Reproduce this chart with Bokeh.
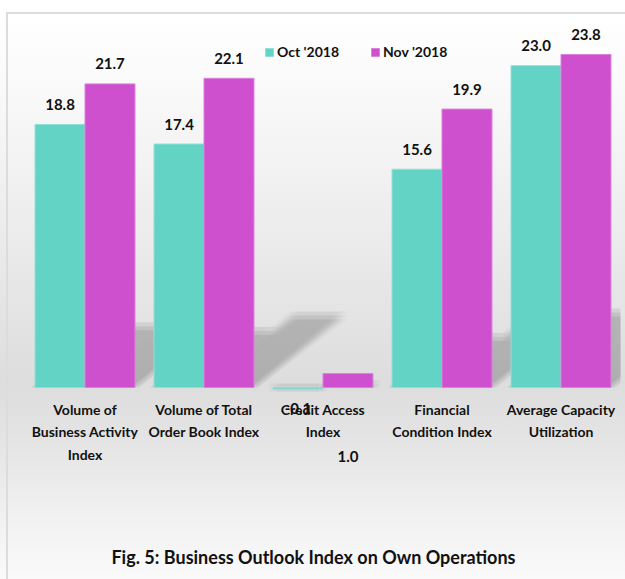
from bokeh.plotting import figure
from bokeh.models import ColumnDataSource, FactorRange, Range1d, Legend, LegendItem, Label
from bokeh.transform import dodge
from bokeh.core.properties import value
from bokeh.embed import file_html
from bokeh.resources import INLINE

categories = ["Volume of\nBusiness Activity\nIndex", "Volume of Total\nOrder Book Index",
              "Credit Access\nIndex", "Financial\nCondition Index", "Average Capacity\nUtilization"]
series_names = ["Oct '2018", "Nov '2018"]
oct_values = [18.8, 17.4, -0.1, 15.6, 23.0]
nov_values = [21.7, 22.1, 1.0, 19.9, 23.8]
title_text = "Fig. 5: Business Outlook Index on Own Operations"

# label placement (style): pixel offsets of value labels (negative = up)
oct_label_offsets = [-20, -20, 20, -20, -20]
nov_label_offsets = [-20, -20, 83, -20, -20]

TEAL = "#62d3c5"
MAGENTA = "#ce50ce"
FONT = "Lato"
INK = "#111111"
BAR_W = 0.42

src = ColumnDataSource(dict(
    cat=categories,
    zero=[0] * len(categories),
    oct=oct_values,
    nov=nov_values,
    oct_lbl=[f"{v:.1f}" for v in oct_values],
    nov_lbl=[f"{v:.1f}" for v in nov_values],
    oct_off=oct_label_offsets,
    nov_off=nov_label_offsets,
))

W, H = 625, 579
p = figure(width=W, height=H, output_backend="svg", toolbar_location=None,
           x_range=FactorRange(factors=categories), y_range=Range1d(-13.72, 27.66),
           min_border_left=25, min_border_right=5, min_border_top=0, min_border_bottom=0)

p.background_fill_alpha = 0
p.border_fill_alpha = 0
p.outline_line_color = None
p.styles = {
    "background": ("linear-gradient(#dcdcdc,#dcdcdc) 6px 12px / 100% 2px no-repeat, "
                   "linear-gradient(#dcdcdc,#dcdcdc) 6px 12px / 2px 100% no-repeat, "
                   "linear-gradient(to bottom, #ffffff 0%, #ffffff 3%, #fbfbfb 12%, #ececec 40%, "
                   "#dddddd 66%, #e4e4e4 76%, #f0f0f0 88%, #fafafa 100%)"),
}
p.xaxis.visible = False
p.yaxis.visible = False
p.grid.visible = False

# soft perspective shadow cast by each bar (derived from the bar values)
PX_PER_CAT, PX_PER_UNIT = 119.0, 13.99
SKEW, LIFT = 0.29, 0.233
shadow_xs, shadow_ys = [], []
for i in range(len(categories)):
    for off, v in ((-BAR_W / 2, oct_values[i]), (BAR_W / 2, nov_values[i])):
        h = max(v, 0)
        xl = i + 0.5 + off - BAR_W / 2
        xr = xl + BAR_W
        shift = SKEW * h * PX_PER_UNIT / PX_PER_CAT
        top = LIFT * h
        for dx in (-4, 0, 4):
            for dy in (-4, 0, 4):
                ox, oy = dx / PX_PER_CAT, dy / PX_PER_UNIT
                shadow_xs.append([xl + ox, xr + ox, xr + shift + ox, xl + shift + ox])
                shadow_ys.append([0, 0, top + oy, top + oy])
p.patches(xs=shadow_xs, ys=shadow_ys, fill_color="black", fill_alpha=0.024, line_color=None)

r_oct = p.vbar(x=dodge("cat", -BAR_W / 2, range=p.x_range), top="oct", bottom=0, width=BAR_W,
               source=src, fill_color=TEAL, line_color="#8fe0d6", line_width=1)
r_nov = p.vbar(x=dodge("cat", BAR_W / 2, range=p.x_range), top="nov", bottom=0, width=BAR_W,
               source=src, fill_color=MAGENTA, line_color="#dc80dc", line_width=1)

# category (tick) labels under the baseline
p.text(x="cat", y="zero", text="cat", y_offset=13, source=src,
       text_align="center", text_baseline="top", text_line_height=1.34,
       text_font=value(FONT), text_font_style="bold", text_font_size="14px", text_color=INK)

# value labels
p.text(x=dodge("cat", -BAR_W / 2, range=p.x_range), y="oct", text="oct_lbl", y_offset="oct_off",
       source=src, text_align="center", text_baseline="middle",
       text_font=value(FONT), text_font_style="bold", text_font_size="15px", text_color=INK)
p.text(x=dodge("cat", BAR_W / 2, range=p.x_range), y="nov", text="nov_lbl", y_offset="nov_off",
       source=src, text_align="center", text_baseline="middle",
       text_font=value(FONT), text_font_style="bold", text_font_size="15px", text_color=INK)

p.add_layout(Label(x=2.42, y=23, x_units="data", y_units="screen", text=title_text,
                   text_align="center", text_baseline="middle", text_font=FONT,
                   text_font_style="bold", text_font_size="18px", text_color=INK))

legend = Legend(items=[LegendItem(label=series_names[0], renderers=[r_oct]),
                       LegendItem(label=series_names[1], renderers=[r_nov])],
                orientation="horizontal", location=(239, 519),
                background_fill_alpha=0, border_line_color=None,
                glyph_width=10, glyph_height=10, label_standoff=3, spacing=31,
                padding=0, margin=0,
                label_text_font=FONT, label_text_font_style="bold",
                label_text_font_size="14px", label_text_color=INK)
p.add_layout(legend)

open("out.html", "w").write(file_html(p, INLINE))
